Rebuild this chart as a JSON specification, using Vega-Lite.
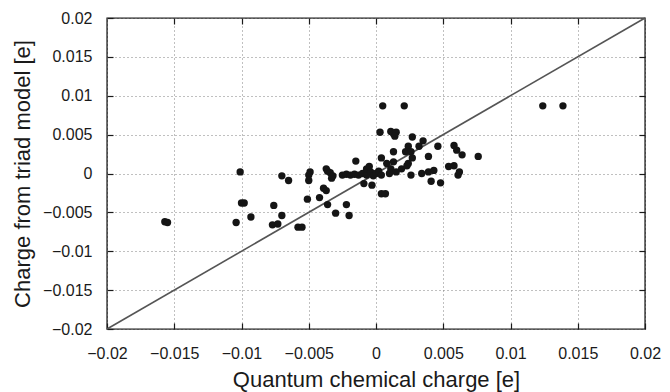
{
  "$schema": "https://vega.github.io/schema/vega-lite/v6.json",
  "width": 538,
  "height": 311,
  "autosize": {"type": "none"},
  "padding": {"left": 107, "top": 18, "right": 25, "bottom": 63},
  "background": "white",
  "config": {
    "view": {"stroke": "#1a1a1a", "strokeWidth": 1.4},
    "axis": {
      "labelFont": "Liberation Sans",
      "titleFont": "Liberation Sans",
      "labelFontSize": 16,
      "titleFontSize": 22,
      "titleFontWeight": "normal",
      "labelColor": "#1a1a1a",
      "titleColor": "#1a1a1a",
      "domainColor": "#1a1a1a",
      "tickColor": "#1a1a1a",
      "gridColor": "#808080",
      "gridDash": [1, 3],
      "gridWidth": 1,
      "gridOpacity": 1,
      "tickSize": -6,
      "tickWidth": 1.2
    }
  },
  "datasets": {
    "pts": [
      {"qc": -0.0157, "triad": -0.0062}, {"qc": -0.0155, "triad": -0.0063},
      {"qc": -0.0101, "triad": 0.0002},
      {"qc": -0.0100, "triad": -0.0038}, {"qc": -0.0098, "triad": -0.0038},
      {"qc": -0.0104, "triad": -0.0063},
      {"qc": -0.0093, "triad": -0.0056},
      {"qc": -0.0076, "triad": -0.0041},
      {"qc": -0.0077, "triad": -0.0066}, {"qc": -0.0073, "triad": -0.0065},
      {"qc": -0.0070, "triad": -0.0054},
      {"qc": -0.0058, "triad": -0.0069}, {"qc": -0.0055, "triad": -0.0069},
      {"qc": -0.0070, "triad": -0.0003},
      {"qc": -0.0065, "triad": -0.0009},
      {"qc": -0.0049, "triad": 0.0002}, {"qc": -0.0050, "triad": -0.0002}, {"qc": -0.0050, "triad": -0.0009},
      {"qc": -0.0051, "triad": -0.0033},
      {"qc": -0.0042, "triad": -0.0031},
      {"qc": -0.0039, "triad": -0.0019}, {"qc": -0.0037, "triad": -0.0022},
      {"qc": -0.0036, "triad": -0.0040},
      {"qc": -0.0037, "triad": 0.0006}, {"qc": -0.0036, "triad": 0.0003}, {"qc": -0.0034, "triad": 0.0001},
      {"qc": -0.0033, "triad": -0.0006}, {"qc": -0.0032, "triad": -0.0003},
      {"qc": -0.0030, "triad": -0.0051},
      {"qc": -0.0022, "triad": -0.0040},
      {"qc": -0.0020, "triad": -0.0054},
      {"qc": -0.0015, "triad": 0.0016},
      {"qc": -0.0025, "triad": -0.0002}, {"qc": -0.0022, "triad": -0.0001}, {"qc": -0.0019, "triad": -0.0002},
      {"qc": -0.0016, "triad": -0.0001}, {"qc": -0.0013, "triad": -0.0002}, {"qc": -0.0010, "triad": 0.0000},
      {"qc": -0.0007, "triad": -0.0002}, {"qc": -0.0007, "triad": 0.0006},
      {"qc": -0.0009, "triad": -0.0013}, {"qc": -0.0003, "triad": -0.0015},
      {"qc": 0.0004, "triad": -0.0026}, {"qc": 0.0007, "triad": -0.0026},
      {"qc": -0.0004, "triad": 0.0002}, {"qc": -0.0002, "triad": -0.0003}, {"qc": 0.0000, "triad": 0.0000},
      {"qc": 0.0002, "triad": 0.0003}, {"qc": 0.0004, "triad": -0.0002}, {"qc": -0.0005, "triad": 0.0009},
      {"qc": 0.0005, "triad": 0.0087}, {"qc": 0.0021, "triad": 0.0087},
      {"qc": 0.0003, "triad": 0.0053}, {"qc": 0.0011, "triad": 0.0054}, {"qc": 0.0013, "triad": 0.0051},
      {"qc": 0.0015, "triad": 0.0053}, {"qc": 0.0014, "triad": 0.0048},
      {"qc": 0.0027, "triad": 0.0047}, {"qc": 0.0035, "triad": 0.0042},
      {"qc": 0.0024, "triad": 0.0035}, {"qc": 0.0032, "triad": 0.0035}, {"qc": 0.0046, "triad": 0.0035},
      {"qc": 0.0013, "triad": 0.0028}, {"qc": 0.0022, "triad": 0.0028}, {"qc": 0.0026, "triad": 0.0028},
      {"qc": 0.0058, "triad": 0.0036}, {"qc": 0.0060, "triad": 0.0030}, {"qc": 0.0064, "triad": 0.0024},
      {"qc": 0.0076, "triad": 0.0022},
      {"qc": 0.0004, "triad": 0.0020}, {"qc": 0.0027, "triad": 0.0020}, {"qc": 0.0039, "triad": 0.0022},
      {"qc": 0.0008, "triad": 0.0013}, {"qc": 0.0013, "triad": 0.0015}, {"qc": 0.0024, "triad": 0.0013},
      {"qc": 0.0011, "triad": 0.0006}, {"qc": 0.0019, "triad": 0.0006}, {"qc": 0.0023, "triad": 0.0010},
      {"qc": 0.0010, "triad": 0.0000}, {"qc": 0.0015, "triad": 0.0002}, {"qc": 0.0026, "triad": -0.0002},
      {"qc": 0.0034, "triad": 0.0000}, {"qc": 0.0039, "triad": 0.0002}, {"qc": 0.0043, "triad": 0.0004},
      {"qc": 0.0041, "triad": -0.0010}, {"qc": 0.0048, "triad": -0.0012},
      {"qc": 0.0054, "triad": 0.0009}, {"qc": 0.0058, "triad": 0.0010}, {"qc": 0.0061, "triad": -0.0002},
      {"qc": 0.0062, "triad": 0.0002},
      {"qc": 0.0124, "triad": 0.0087}, {"qc": 0.0139, "triad": 0.0087}
    ],
    "diag": [{"x1": -0.02, "y1": -0.02, "x2": 0.02, "y2": 0.02}]
  },
  "resolve": {"axis": {"x": "independent", "y": "independent"}},
  "layer": [
    {
      "data": {"name": "diag"},
      "mark": {"type": "rule", "color": "#555555", "strokeWidth": 1.6},
      "encoding": {
        "x": {"field": "x1", "type": "quantitative", "scale": {"domain": [-0.02, 0.02], "nice": false, "zero": false},
              "axis": {"orient": "top", "labels": false, "grid": false, "domain": false, "title": null, "values": [-0.015,-0.01,-0.005,0,0.005,0.01,0.015]}},
        "y": {"field": "y1", "type": "quantitative", "scale": {"domain": [-0.02, 0.02], "nice": false, "zero": false},
              "axis": {"orient": "right", "labels": false, "grid": false, "domain": false, "title": null, "values": [-0.015,-0.01,-0.005,0,0.005,0.01,0.015]}},
        "x2": {"field": "x2"},
        "y2": {"field": "y2"}
      }
    },
    {
      "data": {"name": "pts"},
      "mark": {"type": "circle", "size": 54, "color": "#151515", "opacity": 1},
      "encoding": {
        "x": {"field": "qc", "type": "quantitative", "title": "Quantum chemical charge [e]",
              "scale": {"domain": [-0.02, 0.02], "nice": false, "zero": false},
              "axis": {"orient": "bottom", "grid": true, "values": [-0.02,-0.015,-0.01,-0.005,0,0.005,0.01,0.015,0.02], "format": "~g", "labelExpr": "replace(datum.label, '-', '\u2212')", "labelPadding": 22, "titlePadding": 8, "domain": false, "labelFlush": false}},
        "y": {"field": "triad", "type": "quantitative", "title": "Charge from triad model [e]",
              "scale": {"domain": [-0.02, 0.02], "nice": false, "zero": false},
              "axis": {"orient": "left", "grid": true, "values": [-0.02,-0.015,-0.01,-0.005,0,0.005,0.01,0.015,0.02], "format": "~g", "labelExpr": "replace(datum.label, '-', '\u2212')", "labelPadding": 21, "titlePadding": 8, "domain": false, "labelFlush": false}}
      }
    }
  ]
}
